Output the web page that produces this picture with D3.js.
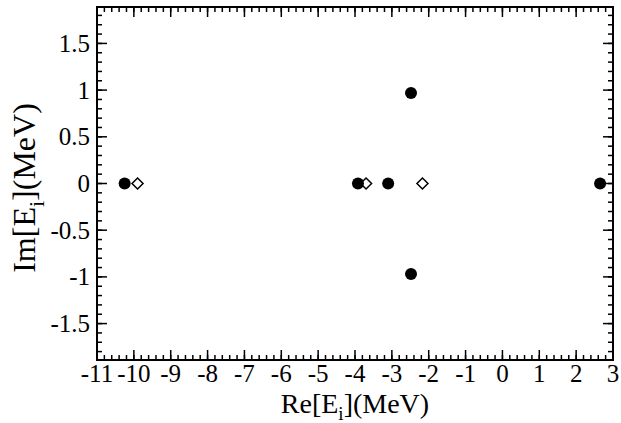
<!DOCTYPE html>
<html>
<head>
<meta charset="utf-8">
<script src="https://cdn.jsdelivr.net/npm/d3@7"></script>
<style>
  body { margin: 0; background: #fff; }
</style>
</head>
<body>
<div class="chart"></div>
<script>
// poles: filled circles
var circleRe = [-10.25, -3.92, -3.1, -2.48, -2.48, 2.65];
var circleIm = [0, 0, 0, 0.97, -0.97, 0];
// open diamonds
var diamondRe = [-9.9, -3.7, -2.17];
var diamondIm = [0, 0, 0];

var xTicks = [-11, -10, -9, -8, -7, -6, -5, -4, -3, -2, -1, 0, 1, 2, 3];
var yTicks = [-1.5, -1, -0.5, 0, 0.5, 1, 1.5];

var FONT = "'Times New Roman', 'Liberation Serif', 'DejaVu Serif', serif";

var W = 621, H = 423;
var margin = { top: 7, right: 8, bottom: 63, left: 97 };
var width = W - margin.left - margin.right,
    height = H - margin.top - margin.bottom;

var svg = d3.select(".chart").append("svg")
    .attr("width", W)
    .attr("height", H)
    .attr("font-family", FONT);

var g = svg.append("g")
    .attr("transform", "translate(" + margin.left + "," + margin.top + ")");

var x = d3.scaleLinear().domain([-11, 3]).range([0, width]);
var y = d3.scaleLinear().domain([-1.89, 1.89]).range([height, 0]);

// minor ticks
var xMinor = d3.range(-11, 3.001, 0.2).map(function(d) { return +d.toFixed(1); });
var yMinor = d3.range(-1.8, 1.801, 0.1).map(function(d) { return +d.toFixed(1); });

function drawTicks(scale, vals, len, horiz) {
    vals.forEach(function(v) {
        if (horiz) {
            var px = scale(v);
            g.append("line").attr("x1", px).attr("x2", px).attr("y1", height).attr("y2", height - len)
                .attr("stroke", "#000").attr("stroke-width", 1.5);
            g.append("line").attr("x1", px).attr("x2", px).attr("y1", 0).attr("y2", len)
                .attr("stroke", "#000").attr("stroke-width", 1.5);
        } else {
            var py = scale(v);
            g.append("line").attr("x1", 0).attr("x2", len).attr("y1", py).attr("y2", py)
                .attr("stroke", "#000").attr("stroke-width", 1.5);
            g.append("line").attr("x1", width).attr("x2", width - len).attr("y1", py).attr("y2", py)
                .attr("stroke", "#000").attr("stroke-width", 1.5);
        }
    });
}
drawTicks(x, xMinor, 5, true);
drawTicks(x, xTicks, 10, true);
drawTicks(y, yMinor, 5, false);
drawTicks(y, yTicks, 10, false);

// frame
g.append("rect")
    .attr("width", width)
    .attr("height", height)
    .attr("fill", "none")
    .attr("stroke", "#000")
    .attr("stroke-width", 2);

// tick labels
g.selectAll(".xlab")
    .data(xTicks)
    .enter().append("text")
    .attr("x", function(d) { return x(d); })
    .attr("y", height + 22)
    .attr("text-anchor", "middle")
    .style("font-size", "25px")
    .text(function(d) { return d; });

g.selectAll(".ylab")
    .data(yTicks)
    .enter().append("text")
    .attr("x", -7)
    .attr("y", function(d) { return y(d); })
    .attr("dy", "0.34em")
    .attr("text-anchor", "end")
    .style("font-size", "25px")
    .text(function(d) { return d; });

// axis titles
var xt = svg.append("text")
    .attr("x", margin.left + width / 2)
    .attr("y", 413)
    .attr("text-anchor", "middle")
    .style("font-size", "28px");
xt.append("tspan").text("Re[E");
xt.append("tspan").attr("dy", 7).style("font-size", "19px").text("i");
xt.append("tspan").attr("dy", -7).text("](MeV)");

var yt = svg.append("text")
    .attr("transform", "translate(35,188) rotate(-90)")
    .attr("text-anchor", "middle")
    .style("font-size", "32px");
yt.append("tspan").text("Im[E");
yt.append("tspan").attr("dy", 9).style("font-size", "22px").text("i");
yt.append("tspan").attr("dy", -9).text("](MeV)");

// points
var circles = circleRe.map(function(d, i) { return { re: d, im: circleIm[i] }; });
var diamonds = diamondRe.map(function(d, i) { return { re: d, im: diamondIm[i] }; });

g.selectAll(".diamond")
    .data(diamonds)
    .enter().append("path")
    .attr("d", "M0,-5.5L5.5,0L0,5.5L-5.5,0Z")
    .attr("transform", function(d) { return "translate(" + x(d.re) + "," + y(d.im) + ")"; })
    .attr("fill", "#fff")
    .attr("stroke", "#000")
    .attr("stroke-width", 1.5);

g.selectAll(".dot")
    .data(circles)
    .enter().append("circle")
    .attr("cx", function(d) { return x(d.re); })
    .attr("cy", function(d) { return y(d.im); })
    .attr("r", 6)
    .attr("fill", "#000");
</script>
</body>
</html>
